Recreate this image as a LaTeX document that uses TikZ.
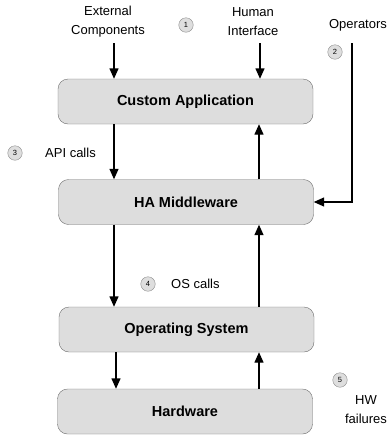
\documentclass[tikz,border=0pt]{standalone}
\usepackage{fontspec}
\setmainfont{Liberation Sans}
\usepackage{tikz}
\usetikzlibrary{arrows.meta}
\definecolor{layerfill}{RGB}{221, 221, 221}
\definecolor{layerline}{RGB}{110, 110, 110}
\definecolor{numfill}{RGB}{222, 222, 222}
\definecolor{numline}{RGB}{140, 140, 140}

\begin{document}
\begin{tikzpicture}[x=1pt,y=-1pt,
    layer/.style={draw=layerline,fill=layerfill,rounded corners=10pt,minimum width=255pt,minimum height=45pt,font=\fontsize{14.5}{17}\selectfont\bfseries},
    num/.style={draw=numline,fill=numfill,circle,minimum size=14.5pt,inner sep=0pt,font=\fontsize{7.5}{8}\selectfont},
    lbl/.style={align=center,inner sep=0pt,font=\fontsize{13}{19}\selectfont},
    arr/.style={line width=1.4pt,-{Triangle[length=10.5pt,width=9pt]}}]
            \useasboundingbox (0,0) rectangle (391,437);
            \node[layer] (app) at (185.5,101.5) {Custom Application};
            \node[layer] (mid) at (186,202) {HA Middleware};
            \node[layer] (os) at (186.5,329.5) {Operating System};
            \node[layer] (hw) at (185,411.5) {Hardware};
            
            \node[lbl] (ext) at (108,22) {External\\Components};
            \node[lbl] (hmi) at (253,22) {Human\\Interface};
            \node[lbl] (ops) at (358,25) {Operators};
            \node[lbl,anchor=west] (api) at (45,153) {API calls};
            \node[lbl,anchor=west] (oscalls) at (171,284) {OS calls};
            \node[lbl] (hwf) at (366,409.5) {HW\\failures};
            
            \node[num] (n1) at (186,25) {1};
            \node[num] (n2) at (335,52) {2};
            \node[num] (n3) at (15,153) {3};
            \node[num] (n4) at (148,284) {4};
            \node[num] (n5) at (340,380) {5};
            
            \coordinate (extin) at (114,43);
            \coordinate (hmiin) at (260,43);
            \coordinate (opsin) at (352,43);
            \coordinate (down) at (114,0);
            \coordinate (up) at (259,0);
            
            \draw[arr] (extin) -- (extin |- app.north);
            \draw[arr] (hmiin) -- (hmiin |- app.north);
            \draw[arr] (opsin) |- (mid.east);
            \draw[arr] (app.south -| down) -- (mid.north -| down);
            \draw[arr] (mid.north -| up) -- (app.south -| up);
            \draw[arr] (mid.south -| down) -- (os.north -| down);
            \draw[arr] (os.north -| up) -- (mid.south -| up);
            \draw[arr] ([xshift=2pt]os.south -| down) -- ([xshift=2pt]hw.north -| down);
            \draw[arr] (hw.north -| up) -- (os.south -| up);
        \end{tikzpicture}
\end{document}
